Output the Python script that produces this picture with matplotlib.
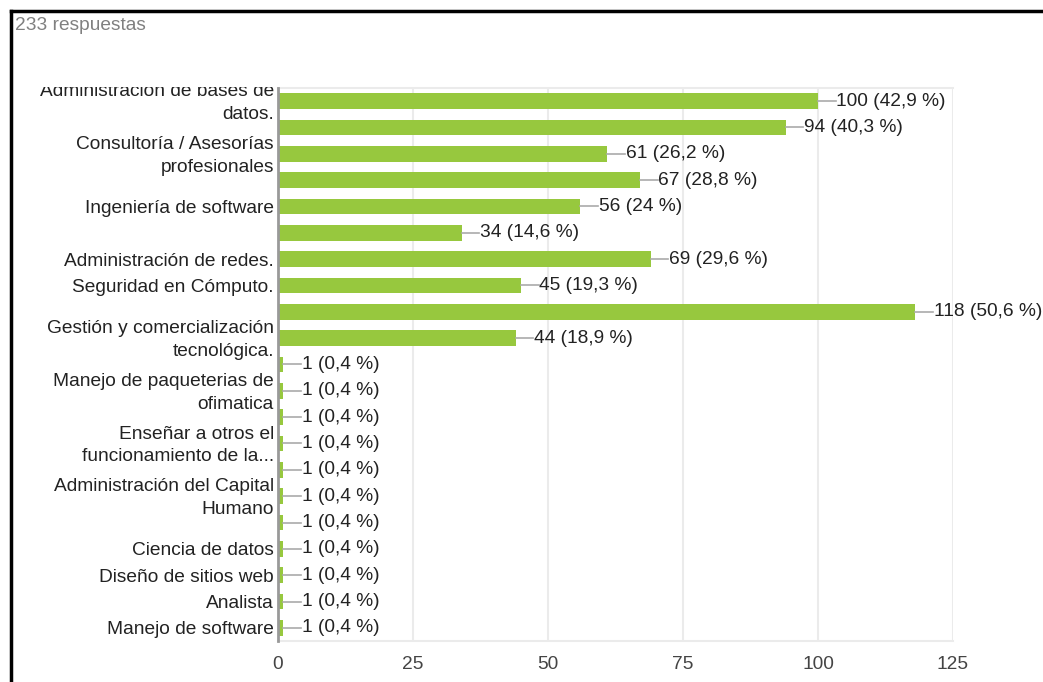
import matplotlib
matplotlib.use("Agg")
import matplotlib.pyplot as plt
import matplotlib.transforms as mtransforms
from matplotlib.patches import Rectangle
from matplotlib.lines import Line2D

plt.rcParams['font.family'] = ['Liberation Sans', 'DejaVu Sans']

labels = [
    "Administración de bases de\ndatos.", "",
    "Consultoría / Asesorías\nprofesionales", "",
    "Ingeniería de software", "",
    "Administración de redes.",
    "Seguridad en Cómputo.",
    "", "Gestión y comercialización\ntecnológica.",
    "", "Manejo de paqueterias de\nofimatica",
    "", "Enseñar a otros el\nfuncionamiento de la...",
    "", "Administración del Capital\nHumano",
    "", "Ciencia de datos", "Diseño de sitios web", "Analista", "Manejo de software",
]
counts = [100, 94, 61, 67, 56, 34, 69, 45, 118, 44,
          1, 1, 1, 1, 1, 1, 1, 1, 1, 1, 1]
pcts = ["42,9", "40,3", "26,2", "28,8", "24", "14,6", "29,6", "19,3", "50,6", "18,9",
        "0,4", "0,4", "0,4", "0,4", "0,4", "0,4", "0,4", "0,4", "0,4", "0,4", "0,4"]
xticks = [0, 25, 50, 75, 100, 125]
total_text = "233 respuestas"

W, H = 1043, 682
fig = plt.figure(figsize=(W / 100, H / 100), dpi=100)
ax_left, ax_right, ax_top, ax_bot = 278 / W, 953 / W, 1 - 88 / H, 1 - 641 / H
ax = fig.add_axes([ax_left, ax_bot, ax_right - ax_left, ax_top - ax_bot])

FS = 13.8
pos = list(range(len(counts)))
ax.barh(pos, counts, height=0.6, color='#97c83e', zorder=2)
ax.set_ylim(len(counts) - 0.5, -0.5)
ax.set_xlim(0, 125)
ax.set_xticks(xticks)
ax.set_xticklabels([str(t) for t in xticks])
ax.tick_params(axis='x', length=0, pad=11, labelsize=FS, labelcolor='#444444')
ax.set_yticks(pos)
ax.set_yticklabels(labels, fontsize=FS, color='#222222', linespacing=1.45, va='center')
ax.tick_params(axis='y', length=0, pad=3)
shift = mtransforms.ScaledTranslation(0, -2 / 100, fig.dpi_scale_trans)
for t in ax.get_yticklabels():
    t.set_transform(t.get_transform() + shift)
ax.grid(axis='x', color='#ebebeb', linewidth=1.5, zorder=0)
for s in ['top', 'right', 'bottom']:
    ax.spines[s].set_color('#ebebeb')
    ax.spines[s].set_linewidth(1.5)
ax.spines['right'].set_visible(False)
ax.spines['left'].set_color('#999999')
ax.spines['left'].set_linewidth(2)
ax.spines['left'].set_zorder(3)

for p, c, pc in zip(pos, counts, pcts):
    ax.plot([c, c + 3.3], [p, p], color='#aaaaaa', linewidth=1.2, zorder=2, clip_on=False)
    ax.text(c + 3.4, p, f"{c} ({pc} %)", va='center', ha='left', fontsize=FS,
            color='#222222', clip_on=False)

# mask: chart area clips the top label line
fig.add_artist(Rectangle((14 / W, 1 - 87 / H), (275 - 14) / W, 40 / H,
                         transform=fig.transFigure, facecolor='white',
                         edgecolor='none', zorder=10))

fig.text(15 / W, 1 - 25 / H, total_text, fontsize=FS, color='#808080', va='center', ha='left')

fig.add_artist(Line2D([11 / W, 11 / W], [0, 1 - 11 / H], color='black', linewidth=2.5, zorder=11))
fig.add_artist(Line2D([11 / W, 1], [1 - 11 / H, 1 - 11 / H], color='black', linewidth=2.5, zorder=11))

fig.savefig("out.png", dpi=100, facecolor='white')
